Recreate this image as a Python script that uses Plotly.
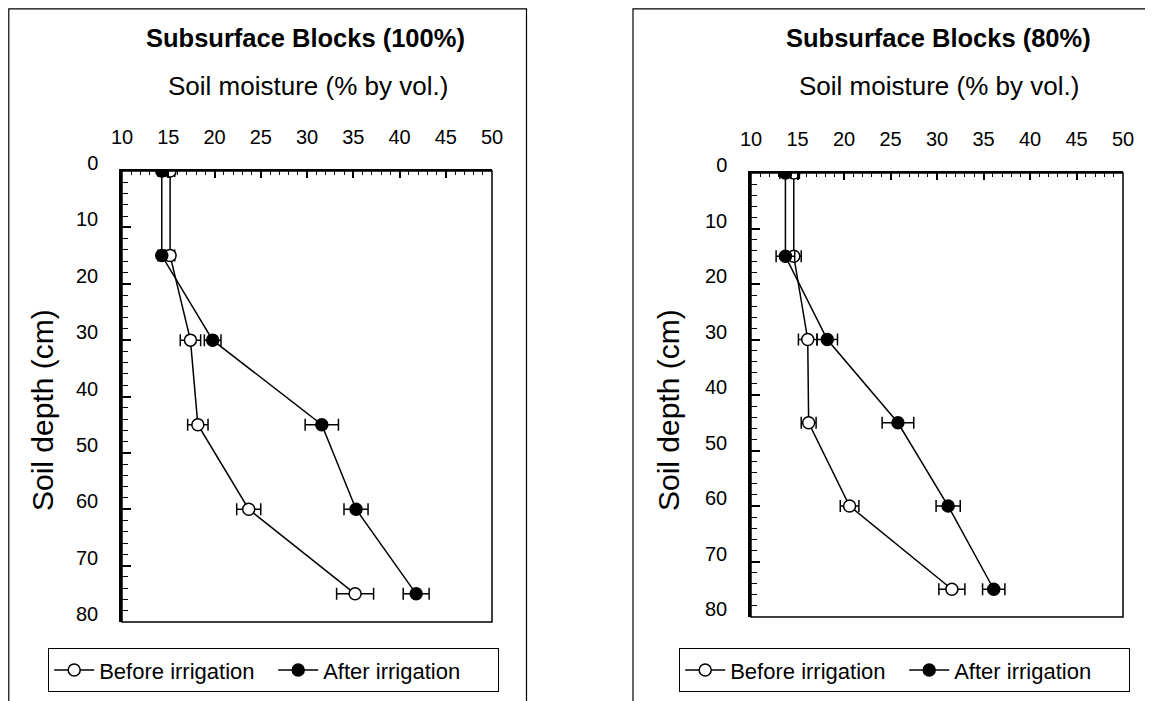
import plotly.graph_objects as go

OFF = 8  # page body margin in the browser
W, H = 1153 - OFF, 701 - OFF

depth = [0, 15, 30, 45, 60, 75]

# Subsurface Blocks (100%)
before_100 = [15.2, 15.2, 17.4, 18.2, 23.7, 35.2]
before_100_err = [0.5, 0.5, 1.1, 1.1, 1.3, 2.0]
after_100 = [14.3, 14.3, 19.8, 31.6, 35.3, 41.8]
after_100_err = [0.4, 0.4, 0.9, 1.8, 1.3, 1.4]

# Subsurface Blocks (80%)
before_80 = [14.6, 14.6, 16.1, 16.2, 20.6, 31.6]
before_80_err = [0.6, 0.8, 1.0, 0.8, 1.0, 1.4]
after_80 = [13.7, 13.7, 18.2, 25.8, 31.2, 36.1]
after_80_err = [0.6, 1.0, 1.1, 1.7, 1.3, 1.2]

x_ticks = [10, 15, 20, 25, 30, 35, 40, 45, 50]
y_ticks = [0, 10, 20, 30, 40, 50, 60, 70, 80]

titles = ["Subsurface Blocks (100%)", "Subsurface Blocks (80%)"]
subtitle = "Soil moisture (% by vol.)"
ytitle = "Soil depth (cm)"
names = ["Before irrigation", "After irrigation"]

FONT = "Arial, Liberation Sans, sans-serif"

def px_x(p):
    return (p - OFF) / W

def px_y(p):
    return 1 - (p - OFF) / H

panels = [
    dict(xd=[122, 492], yd=[171, 622], frame=[8.8, 526.5], tx=305, stx=308, ytx=42, legx=[48, 498], legy=648,
         data=(before_100, before_100_err, after_100, after_100_err)),
    dict(xd=[751, 1123], yd=[173, 617], frame=[633, 1150], tx=938, stx=939, ytx=668, legx=[679, 1129], legy=648,
         data=(before_80, before_80_err, after_80, after_80_err)),
]

fig = go.Figure()
shapes = []
annotations = []

for i, p in enumerate(panels):
    sfx = "" if i == 0 else "2"
    xa, ya = "x" + sfx, "y" + sfx
    leg = "legend" if i == 0 else "legend2"
    b, be, a, ae = p["data"]
    fig.add_trace(go.Scatter(
        x=b, y=depth, xaxis=xa, yaxis=ya, name=names[0], legend=leg,
        mode="lines+markers",
        line=dict(color="black", width=1.5),
        marker=dict(symbol="circle", size=12, color="white", line=dict(color="black", width=1.5)),
        error_x=dict(type="data", array=be, visible=True, color="black", thickness=1.5, width=6),
    ))
    fig.add_trace(go.Scatter(
        x=a, y=depth, xaxis=xa, yaxis=ya, name=names[1], legend=leg,
        mode="lines+markers",
        line=dict(color="black", width=1.5),
        marker=dict(symbol="circle", size=12, color="black", line=dict(color="black", width=1.5)),
        error_x=dict(type="data", array=ae, visible=True, color="black", thickness=1.5, width=6),
    ))
    xdom = [px_x(p["xd"][0]), px_x(p["xd"][1])]
    ydom = [px_y(p["yd"][1]), px_y(p["yd"][0])]
    xaxis = dict(
        domain=xdom, range=[10, 50], side="top", anchor=ya,
        tickvals=x_ticks, ticks="inside", ticklen=7, tickwidth=1.5, tickcolor="black",
        showline=True, linecolor="black", linewidth=2, mirror=False,
        showgrid=False, zeroline=False,
        minor=dict(dtick=1, ticks="inside", ticklen=4, tickwidth=1, tickcolor="black", showgrid=False),
        tickfont=dict(family=FONT, size=20, color="black"),
        ticklabelstandoff=17,
        fixedrange=True,
    )
    yaxis = dict(
        domain=ydom, range=[80, 0], anchor=xa,
        tickvals=y_ticks, ticks="inside", ticklen=9, tickwidth=1.5, tickcolor="black",
        showline=True, linecolor="black", linewidth=2.5, mirror=False,
        showgrid=False, zeroline=False,
        minor=dict(dtick=2, ticks="inside", ticklen=6, tickwidth=1, tickcolor="black", showgrid=False),
        tickfont=dict(family=FONT, size=20, color="black"),
        ticklabelstandoff=17,
        ticklabelshift=8,
        fixedrange=True,
    )
    fig.update_layout(**{"xaxis" + sfx: xaxis, "yaxis" + sfx: yaxis})

    # plot-area box
    shapes.append(dict(type="rect", xref=xa + " domain", yref=ya + " domain",
                       x0=0, x1=1, y0=0, y1=1, line=dict(color="black", width=1.5), layer="above"))
    # outer panel frame
    shapes.append(dict(type="rect", xref="paper", yref="paper",
                       x0=px_x(p["frame"][0]), x1=px_x(p["frame"][1]),
                       y0=-0.05, y1=px_y(8.8), line=dict(color="black", width=1.2)))

    annotations.append(dict(text="<b>" + titles[i] + "</b>", xref="paper", yref="paper",
                            x=px_x(p["tx"]), y=px_y(38), xanchor="center", yanchor="middle",
                            showarrow=False, font=dict(family=FONT, size=25.5, color="black")))
    annotations.append(dict(text=subtitle, xref="paper", yref="paper",
                            x=px_x(p["stx"]), y=px_y(86), xanchor="center", yanchor="middle",
                            showarrow=False, font=dict(family=FONT, size=26, color="black")))
    annotations.append(dict(text=ytitle, xref="paper", yref="paper",
                            x=px_x(p["ytx"]), y=px_y(410), xanchor="center", yanchor="middle",
                            textangle=-90, showarrow=False, font=dict(family=FONT, size=30, color="black")))

    legd = dict(orientation="h", x=px_x(p["legx"][0]), y=px_y(p["legy"]),
                xanchor="left", yanchor="top",
                bordercolor="black", borderwidth=1.2, bgcolor="white",
                font=dict(family=FONT, size=22, color="black"),
                itemwidth=40, entrywidth=169, tracegroupgap=0)
    fig.update_layout(**{("legend" if i == 0 else "legend2"): legd})

fig.update_layout(
    width=W, height=H,
    margin=dict(l=0, r=0, t=0, b=0, pad=0, autoexpand=False),
    paper_bgcolor="white", plot_bgcolor="white",
    showlegend=True,
    shapes=shapes, annotations=annotations,
    font=dict(family=FONT, color="black"),
)

fig.write_html("out.html")
